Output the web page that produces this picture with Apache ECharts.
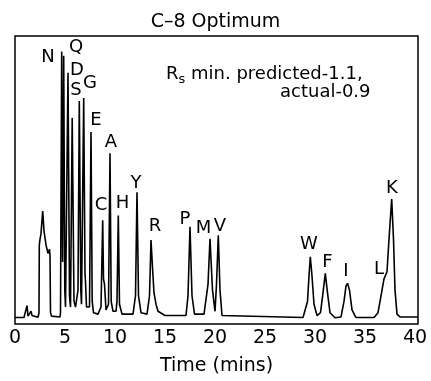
<!DOCTYPE html>
<html>
<head>
<meta charset="utf-8">
<script src="https://cdn.jsdelivr.net/npm/echarts@6/dist/echarts.min.js"></script>
<style>
html, body { margin: 0; padding: 0; background: #fff; }
#main { width: 431px; height: 381px; }
</style>
</head>
<body>
<div id="main"></div>
<script>
var myChart = echarts.init(document.getElementById('main'));

// detector trace (time in min, signal in arbitrary units)
var traceTime = [
	0, 0.9, 1.05, 1.2, 1.3, 1.45, 1.6, 1.7, 1.8, 2.3, 2.4, 2.43, 2.5, 2.6, 2.77, 2.9, 3.1, 3.3, 3.45, 3.5, 3.55, 3.65, 4.5,
	4.55, 4.67, 4.76, 4.87, 4.98, 5.05, 5.3, 5.45, 5.55, 5.72, 5.9, 6.05, 6.3, 6.43, 6.58, 6.65, 6.87, 7.0, 7.05, 7.15, 7.45, 7.6, 7.72, 7.85,
	8.3, 8.6, 8.77, 8.85, 8.95, 9.1, 9.35, 9.5, 9.62, 9.8, 10.1, 10.2, 10.33, 10.45, 10.7, 11.8, 12.05, 12.2, 12.35, 12.6,
	13.2, 13.45, 13.6, 13.75, 13.9, 14.1, 14.3, 15.0, 17.1, 17.3, 17.5, 17.7, 17.95, 18.9, 19.1, 19.3, 19.5, 19.75, 20.0,
	20.15, 20.33, 20.5, 20.7, 28.8, 29.0, 29.25, 29.4, 29.53, 29.7, 29.9, 30.2, 30.55, 30.8, 31.03, 31.25, 31.5, 32.0,
	32.6, 32.9, 33.1, 33.25, 33.45, 33.7, 34.1, 35.9, 36.3, 36.6, 36.9, 37.2, 37.4, 37.67, 37.85, 38.0, 38.2, 38.5, 40.3
];
var traceSignal = [
	0.3, 0.3, 1, 4.5, 0.8, 0.5, 2.5, 1, 0.3, 0.4, 2, 26, 28, 30, 38, 31, 26, 23, 24.5, 22, 2, 0.8, 0.5,
	2, 94.5, 20, 93, 10, 4, 87, 8, 4, 71, 6, 4, 10, 77, 10, 5, 78, 16, 13, 4, 4, 66, 6, 2,
	1.5, 4, 34.7, 14, 12, 3, 5, 58.5, 6, 2.5, 2.5, 6, 36.4, 5, 1.5, 1.5, 8, 44.7, 8, 2,
	1.5, 8, 27.7, 18, 9, 5, 2.5, 1, 1, 8, 32.4, 8, 1.5, 1.5, 1.3, 12, 28.2, 10, 2.5,
	12, 29.4, 10, 1, 0.3, 0.5, 6, 15, 21.8, 15, 5, 1, 2, 9, 15.9, 9, 2, 0.2,
	0.5, 6, 11.5, 12.4, 10, 3, 0.3, 0.3, 2, 8, 14, 16.5, 28, 42.3, 28, 10, 1.5, 0.5, 0.5
];

// peak labels and where they sit
var peakNames = ['N', 'Q', 'D', 'S', 'G', 'E', 'A', 'C', 'H', 'Y', 'R', 'P', 'M', 'V', 'W', 'F', 'I', 'L', 'K'];
var peakLabelTime = [3.3, 6.1, 6.2, 6.1, 7.5, 8.1, 9.6, 8.6, 10.75, 12.1, 14.0, 17.0, 18.85, 20.5, 29.4, 31.25, 33.1, 36.4, 37.7];
var peakLabelHeight = [92.3, 96.1, 88, 80.6, 83.1, 70, 62.4, 40.2, 40.6, 47.8, 32.6, 35.1, 31.8, 32.6, 26.2, 20, 16.5, 17.3, 46];

var xTicks = [0, 5, 10, 15, 20, 25, 30, 35, 40];

var traceData = [];
for (var i = 0; i < traceTime.length; i++) {
	traceData.push([traceTime[i], traceSignal[i]]);
}
var labelData = [];
for (var j = 0; j < peakNames.length; j++) {
	labelData.push({ value: [peakLabelTime[j], peakLabelHeight[j]], name: peakNames[j] });
}

var font = 'DejaVu Sans';

var option = {
	backgroundColor: '#fff',
	animation: false,
	title: {
		text: 'C\u20138 Optimum',
		left: 'center',
		top: 8,
		textStyle: { fontFamily: font, fontSize: 19, fontWeight: 'normal', color: '#000' }
	},
	grid: {
		left: 15,
		right: 13,
		top: 36,
		bottom: 55,
		show: true,
		borderColor: '#000',
		borderWidth: 1.5,
		backgroundColor: 'transparent'
	},
	xAxis: {
		type: 'value',
		min: 0,
		max: 40.3,
		interval: 5,
		name: 'Time (mins)',
		nameLocation: 'middle',
		nameGap: 33,
		nameTextStyle: { fontFamily: font, fontSize: 19, color: '#000' },
		axisLine: { show: false },
		axisTick: { show: false },
		splitLine: { show: false },
		axisLabel: {
			margin: 5,
			fontFamily: font,
			fontSize: 19,
			color: '#000',
			showMaxLabel: false,
			formatter: function (v) {
				return xTicks.indexOf(v) >= 0 ? String(v) : '';
			}
		}
	},
	yAxis: {
		type: 'value',
		min: -2,
		max: 100,
		show: false
	},
	graphic: [
		{
			type: 'text',
			left: 166,
			top: 65,
			style: {
				text: '{a|R}{s|s}{a| min. predicted-1.1,}',
				rich: {
					a: { fontFamily: font, fontSize: 18, lineHeight: 24, fill: '#000' },
					s: { fontFamily: font, fontSize: 13, lineHeight: 24, verticalAlign: 'bottom', fill: '#000' }
				}
			}
		},
		{
			type: 'text',
			left: 280,
			top: 83,
			style: {
				text: 'actual-0.9',
				font: '18px "DejaVu Sans"',
				fill: '#000'
			}
		}
	],
	series: [
		{
			type: 'line',
			data: traceData,
			showSymbol: false,
			lineStyle: { color: '#000', width: 1.6 },
			silent: true
		},
		{
			type: 'scatter',
			data: labelData,
			symbolSize: 0,
			silent: true,
			itemStyle: { opacity: 1, color: '#000' },
			label: {
				show: true,
				position: 'inside',
				formatter: '{b}',
				fontFamily: font,
				fontSize: 18,
				color: '#000',
				opacity: 1
			}
		}
	]
};
myChart.setOption(option);
</script>
</body>
</html>
